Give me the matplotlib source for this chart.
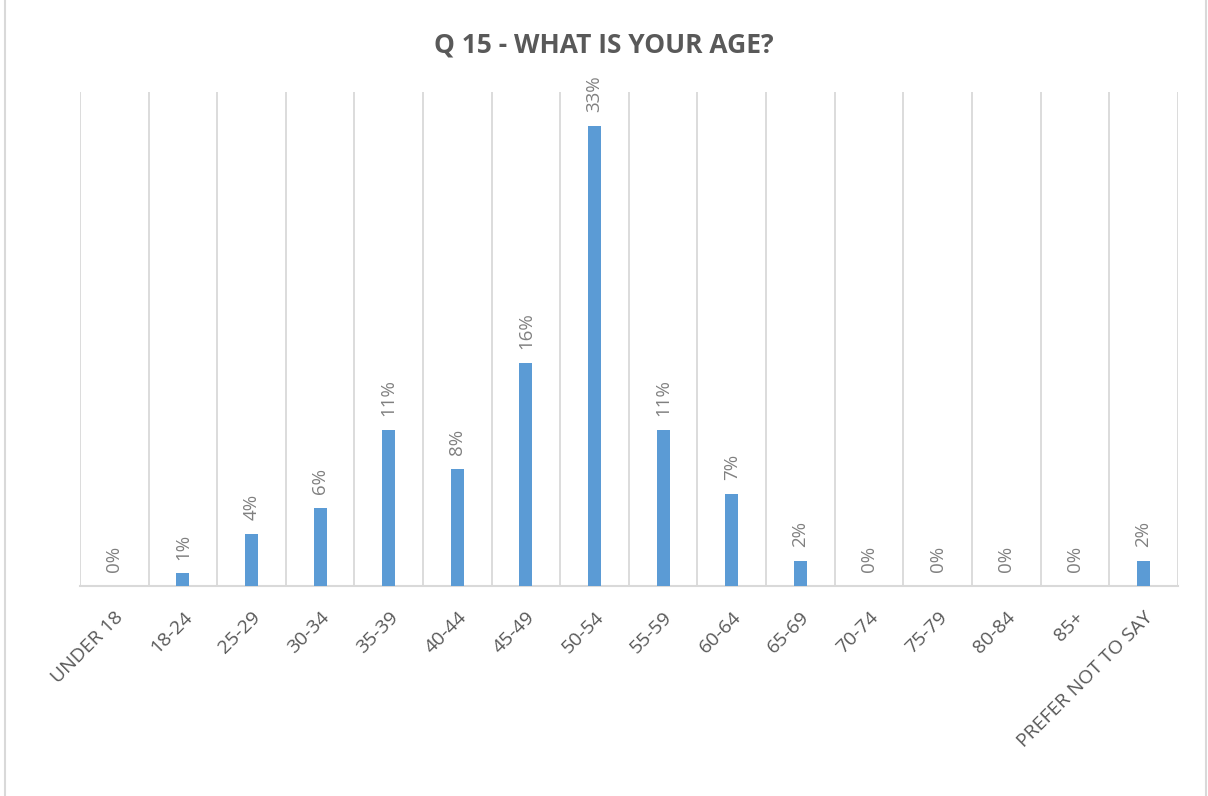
import matplotlib.pyplot as plt
import matplotlib.patches as mpatches
import numpy as np

# survey answers, share of respondents in %
ages = ['UNDER 18', '18-24', '25-29', '30-34', '35-39', '40-44', '45-49', '50-54',
        '55-59', '60-64', '65-69', '70-74', '75-79', '80-84', '85+', 'PREFER NOT TO SAY']
shares = [0.0, 0.9, 3.7, 5.6, 11.2, 8.4, 16.0, 33.0, 11.2, 6.6, 1.8, 0.0, 0.0, 0.0, 0.0, 1.8]

BAR = '#5b9bd5'
GRID = '#d9d9d9'

plt.rcParams['font.family'] = ['Open Sans', 'DejaVu Sans']

fig = plt.figure(figsize=(12.08, 7.96), dpi=100)
ax = fig.add_axes([0.0662, 0.2638, 0.9088, 0.6206])

x = np.arange(len(ages))
ax.bar(x, shares, width=0.19, color=BAR, zorder=3)

# labels above bars, rotated like the original
for xi, v in zip(x, shares):
    ax.annotate('%d%%' % round(v), (xi, v), xytext=(0, 10), textcoords='offset points',
                rotation=90, ha='center', va='bottom', fontsize=13.5, color='#808080')

ax.set_xlim(-0.5, len(ages) - 0.5)
ax.set_ylim(0, 35.4)

# vertical lines between categories
for b in np.arange(-0.5, len(ages), 1.0):
    ax.axvline(b, color=GRID, lw=1.3, zorder=1)

for s in ['top', 'right', 'left']:
    ax.spines[s].set_visible(False)
ax.spines['bottom'].set_color(GRID)
ax.spines['bottom'].set_linewidth(1.5)
ax.set_yticks([])
ax.set_xticks(x)
ax.set_xticklabels(ages, rotation=45, ha='right', rotation_mode='anchor',
                   fontsize=14, color='#595959')
ax.tick_params(axis='x', length=0, pad=16)

fig.text(0.5, 0.943, 'Q 15 - WHAT IS YOUR AGE?', ha='center', va='center',
         fontsize=19, fontweight='bold', color='#595959')

# light frame round the chart
fig.patches.append(mpatches.Rectangle((0.004, -0.01), 0.994, 1.02, transform=fig.transFigure,
                                      fill=False, edgecolor=GRID, lw=1.5))

plt.savefig('out.png', dpi=100)
